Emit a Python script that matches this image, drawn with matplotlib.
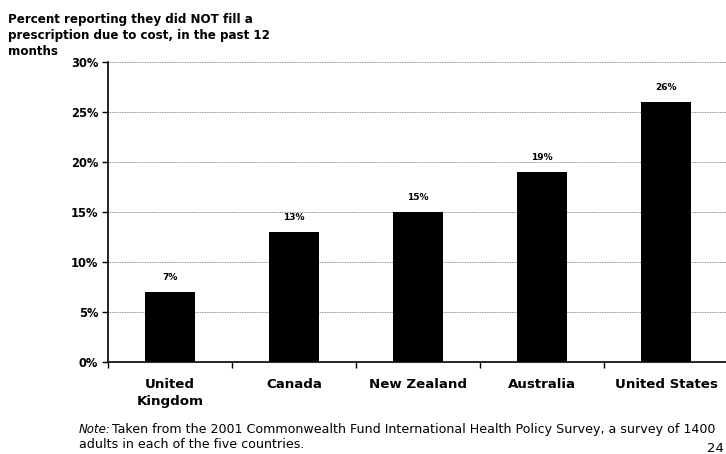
import matplotlib
matplotlib.use("Agg")
import matplotlib.pyplot as plt
from matplotlib.ticker import FixedLocator, PercentFormatter

countries = ["United\nKingdom", "Canada", "New Zealand", "Australia", "United States"]
pct_not_filled = [7, 13, 15, 19, 26]
y_ticks = [0, 5, 10, 15, 20, 25, 30]

title_lines = ["Percent reporting they did NOT fill a",
               "prescription due to cost, in the past 12",
               "months"]
note_lines = ["Taken from the 2001 Commonwealth Fund International Health Policy Survey, "
              "a survey of 1400",
              "adults in each of the five countries."]

plt.rcParams["font.family"] = ["DejaVu Sans"]

W, H = 726, 454
fig = plt.figure(figsize=(W / 100, H / 100), dpi=100)
ax = fig.add_axes([108 / W, 1 - 362 / H, 620 / W, 300 / H])


def fig_y(px):
    return 1 - px / H


x = list(range(len(countries)))
ax.bar(x, pct_not_filled, width=0.41, color="black", zorder=3)
for xi, v in zip(x, pct_not_filled):
    ax.text(xi, v + 1.0, f"{v}%", ha="center", va="bottom",
            fontsize=6.5, fontweight="bold")

ax.set_xlim(-0.5, len(countries) - 0.5)
ax.set_ylim(0, 30)
ax.yaxis.set_major_locator(FixedLocator(y_ticks))
ax.yaxis.set_major_formatter(PercentFormatter(decimals=0))
ax.grid(axis="y", color="#666666", linestyle=(0, (1, 1)), linewidth=0.6, zorder=0)

# category boundaries carry the x tick marks; names sit between them
ax.set_xticks([i - 0.5 for i in range(len(countries) + 1)])
ax.set_xticklabels([])
ax.tick_params(axis="x", direction="out", length=4, width=1, color="black")
ax.tick_params(axis="y", direction="out", length=4, width=1, color="black",
               labelsize=8.3, pad=3)
for lbl in ax.get_yticklabels():
    lbl.set_fontweight("bold")

# country names, one text per line
for xi, name in zip(x, countries):
    for k, part in enumerate(name.split("\n")):
        xf = ax.transData.transform((xi, 0))[0] / fig.dpi / fig.get_figwidth()
        fig.text(xf, fig_y(388 + 17 * k), part, ha="center", va="baseline",
                 fontsize=9.6, fontweight="bold")

for side in ("top", "right"):
    ax.spines[side].set_visible(False)
ax.spines["left"].set_linewidth(1.2)
ax.spines["bottom"].set_linewidth(1.2)

for k, line in enumerate(title_lines):
    fig.text(8 / W, fig_y(23 + 16 * k), line, ha="left", va="baseline",
             fontsize=8.6, fontweight="bold")

fig.text(79 / W, fig_y(433), "Note:", ha="left", va="baseline", fontsize=8.5,
         fontstyle="italic")
fig.text(112 / W, fig_y(433), note_lines[0], ha="left", va="baseline", fontsize=9.1)
fig.text(79 / W, fig_y(448), note_lines[1], ha="left", va="baseline", fontsize=9.1)
fig.text(707 / W, fig_y(452), "24", ha="left", va="baseline", fontsize=9.5)

fig.savefig("out.png", dpi=100)
